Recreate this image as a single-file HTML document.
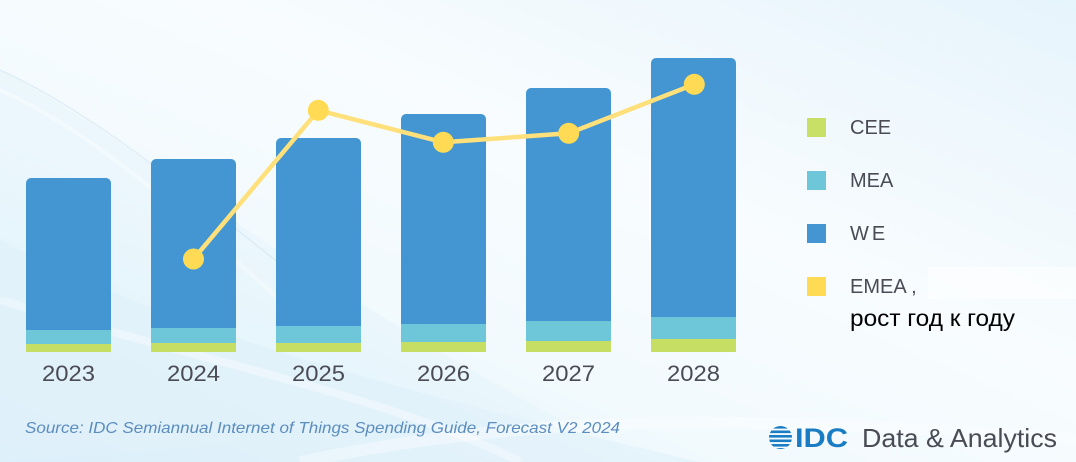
<!DOCTYPE html>
<html><head><meta charset="utf-8">
<style>
html,body{margin:0;padding:0;width:1076px;height:462px;overflow:hidden;}
svg{display:block;}
</style></head>
<body>
<svg width="1076" height="462" viewBox="0 0 1076 462" xmlns="http://www.w3.org/2000/svg">
<defs>
<linearGradient id="bg" x1="0" y1="1" x2="1" y2="0">
<stop offset="0" stop-color="#d6edf9"/>
<stop offset="0.35" stop-color="#f2fafd"/>
<stop offset="0.6" stop-color="#f8fcfe"/>
<stop offset="1" stop-color="#e6f4fc"/>
</linearGradient>
</defs>
<rect width="1076" height="462" fill="url(#bg)"/>
<path d="M0 70 C120 130 250 250 560 420 L0 462 Z" fill="#e4f3fb" opacity="0.5"/>
<path d="M0 240 C150 320 350 380 700 462 L0 462 Z" fill="#dff0fa" opacity="0.6"/>
<path d="M0 300 C200 360 400 400 520 462" stroke="#ffffff" stroke-width="8" fill="none" opacity="0.35"/>
<path d="M0 70 C90 110 200 200 300 280" stroke="#cfe1f1" stroke-width="1.5" fill="none" opacity="0.5"/>
<path d="M0 90 C90 130 180 210 280 300" stroke="#ffffff" stroke-width="4" fill="none" opacity="0.4"/>
<path d="M300 462 C 500 420 700 410 1076 440" stroke="#ffffff" stroke-width="12" fill="none" opacity="0.35"/>

<!-- bars -->
<g>
<rect x="26" y="178" width="85" height="174" rx="5" fill="#4396d1"/>
<rect x="26" y="330" width="85" height="14" fill="#6ec6d9"/><rect x="26" y="344" width="85" height="8" fill="#c6de63"/>

<rect x="151" y="159" width="85" height="193" rx="5" fill="#4396d1"/>
<rect x="151" y="328" width="85" height="15" fill="#6ec6d9"/><rect x="151" y="343" width="85" height="9" fill="#c6de63"/>

<rect x="276" y="138" width="85" height="214" rx="5" fill="#4396d1"/>
<rect x="276" y="326" width="85" height="17" fill="#6ec6d9"/><rect x="276" y="343" width="85" height="9" fill="#c6de63"/>

<rect x="401" y="114" width="85" height="238" rx="5" fill="#4396d1"/>
<rect x="401" y="324" width="85" height="18" fill="#6ec6d9"/><rect x="401" y="342" width="85" height="10" fill="#c6de63"/>

<rect x="526" y="88" width="85" height="264" rx="5" fill="#4396d1"/>
<rect x="526" y="321" width="85" height="20" fill="#6ec6d9"/><rect x="526" y="341" width="85" height="11" fill="#c6de63"/>

<rect x="651" y="58" width="85" height="294" rx="5" fill="#4396d1"/>
<rect x="651" y="317" width="85" height="22" fill="#6ec6d9"/><rect x="651" y="339" width="85" height="13" fill="#c6de63"/>
</g>

<!-- line -->
<polyline points="193.5,259 318.3,110.3 443.3,142.3 568.7,133.3 694.3,84.3" fill="none" stroke="#ffe07a" stroke-width="4.5" stroke-linejoin="round"/>
<g fill="#ffdb55">
<circle cx="193.5" cy="259" r="10.5"/>
<circle cx="318.3" cy="110.3" r="10.5"/>
<circle cx="443.3" cy="142.3" r="10.5"/>
<circle cx="568.7" cy="133.3" r="10.5"/>
<circle cx="694.3" cy="84.3" r="10.5"/>
</g>

<!-- x labels -->
<g font-family="Liberation Sans, sans-serif" font-size="22" fill="#4a4b55">
<text x="42" y="381" textLength="53" lengthAdjust="spacingAndGlyphs">2023</text>
<text x="167" y="381" textLength="53" lengthAdjust="spacingAndGlyphs">2024</text>
<text x="292" y="381" textLength="53" lengthAdjust="spacingAndGlyphs">2025</text>
<text x="417" y="381" textLength="53" lengthAdjust="spacingAndGlyphs">2026</text>
<text x="542" y="381" textLength="53" lengthAdjust="spacingAndGlyphs">2027</text>
<text x="667" y="381" textLength="53" lengthAdjust="spacingAndGlyphs">2028</text>
</g>

<!-- legend -->
<rect x="928" y="267" width="148" height="32" fill="#ffffff" opacity="0.55"/>
<rect x="807" y="118" width="19" height="19" fill="#c8e065"/>
<rect x="807" y="171" width="19" height="19" fill="#6ec6d9"/>
<rect x="807" y="224" width="19" height="19" fill="#4396d1"/>
<rect x="807" y="277" width="19" height="19" fill="#ffdb55"/>
<g font-family="Liberation Sans, sans-serif" font-size="20" fill="#4a4b55">
<text x="850" y="134">CEE</text>
<text x="850" y="187">MEA</text>
<text x="850" y="240" letter-spacing="3">WE</text>
<text x="850" y="293">EMEA ,</text>
</g>
<text x="850" y="326" font-family="Liberation Sans, 'DejaVu Sans', sans-serif" font-size="23" fill="#000000" textLength="165" lengthAdjust="spacingAndGlyphs">рост год к году</text>

<!-- source -->
<text x="25" y="433" font-family="Liberation Sans, sans-serif" font-style="italic" font-size="16" fill="#5b8dbf" textLength="595" lengthAdjust="spacingAndGlyphs">Source: IDC Semiannual Internet of Things Spending Guide, Forecast V2 2024</text>

<!-- IDC logo -->
<g>
<clipPath id="gc"><circle cx="780.5" cy="437.5" r="11.5"/></clipPath>
<g clip-path="url(#gc)" fill="#1a7dc4">
<rect x="768" y="426" width="25" height="2.6"/>
<rect x="768" y="430.5" width="25" height="2.6"/>
<rect x="768" y="435" width="25" height="2.6"/>
<rect x="768" y="439.5" width="25" height="2.6"/>
<rect x="768" y="444" width="25" height="2.6"/>
<rect x="768" y="448" width="25" height="2.6"/>
</g>
<text x="795" y="447" font-family="Liberation Sans, sans-serif" font-size="27" font-weight="bold" fill="#1a7dc4" textLength="53" lengthAdjust="spacingAndGlyphs">IDC</text>
<text x="862" y="447" font-family="Liberation Sans, sans-serif" font-size="26" fill="#4a4b55" textLength="195" lengthAdjust="spacingAndGlyphs">Data &amp; Analytics</text>
</g>
</svg>
</body></html>
